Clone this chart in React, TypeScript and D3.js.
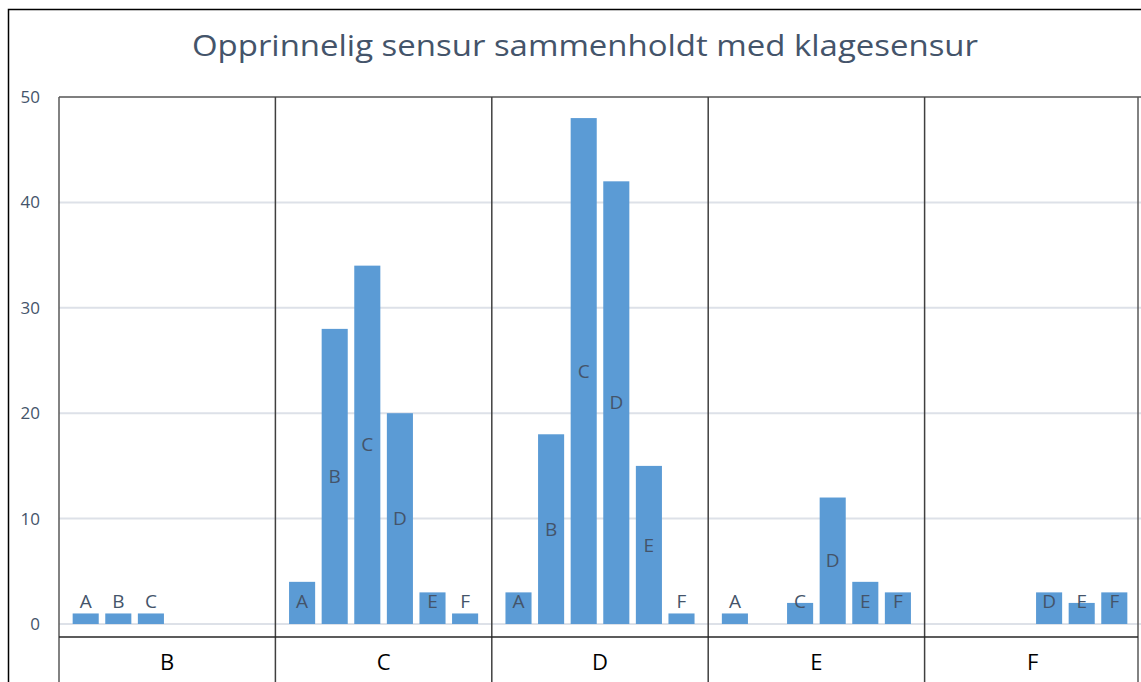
import React from "react";
import * as d3 from "d3";

const title = "Opprinnelig sensur sammenholdt med klagesensur";
const groups = ["B", "C", "D", "E", "F"];
const grades = ["A", "B", "C", "D", "E", "F"];
const countsB = [1, 1, 1, 0, 0, 0];
const countsC = [4, 28, 34, 20, 3, 1];
const countsD = [3, 18, 48, 42, 15, 1];
const countsE = [1, 0, 2, 12, 4, 3];
const countsF = [0, 0, 0, 3, 2, 3];
const yTicks = [0, 10, 20, 30, 40, 50];

const W = 1141;
const H = 682;
const plot = { left: 59, right: 1141, top: 97, bottom: 624 };
const boxRight = 1138;
const tableLine = 637;
const barColor = "#5B9BD5";
const textColor = "#44546A";
const gridColor = "#DDE1E8";
const font = "'Open Sans', 'DejaVu Sans', sans-serif";

export default function App() {
  const table = [countsB, countsC, countsD, countsE, countsF];
  const x0 = d3.scaleBand<string>().domain(groups).range([plot.left, plot.right]).padding(0);
  const gw = x0.bandwidth();
  const x1 = d3
    .scaleBand<string>()
    .domain(grades)
    .range([10.4, gw - 10.4])
    .paddingInner(0.2)
    .paddingOuter(0.1);
  const y = d3.scaleLinear().domain([0, 50]).range([plot.bottom, plot.top]);

  const bars: { g: string; k: string; v: number }[] = [];
  groups.forEach((g, gi) => {
    grades.forEach((k, ki) => {
      const v = table[gi][ki];
      if (v > 0) bars.push({ g, k, v });
    });
  });

  const seps = groups.slice(1).map((g) => x0(g)!);

  return (
    <svg
      width={W}
      height={H}
      style={{ position: "absolute", left: 0, top: 0, background: "#fff" }}
    >
      <rect x={0} y={0} width={W} height={H} fill="#fff" />
      <rect x={8.5} y={9.5} width={W + 20} height={H + 20} fill="none" stroke="#000" strokeWidth={1.5} />
      <text
        x={585}
        y={56}
        textAnchor="middle"
        fontFamily={font}
        fontSize={30}
        fill={textColor}
        textLength={786}
        lengthAdjust="spacingAndGlyphs"
      >
        {title}
      </text>

      {/* gridlines */}
      {yTicks.filter((t) => t > 0 && t < 50).map((t) => (
        <line key={t} x1={plot.left} x2={plot.right} y1={y(t)} y2={y(t)} stroke={gridColor} strokeWidth={2} />
      ))}
      <line x1={plot.left} x2={plot.right} y1={y(0)} y2={y(0)} stroke={gridColor} strokeWidth={2} />

      {/* tick labels */}
      {yTicks.map((t) => (
        <text
          key={t}
          x={40}
          y={y(t)}
          dy="0.35em"
          textAnchor="end"
          fontFamily={font}
          fontSize={17}
          fill={textColor}
        >
          {t}
        </text>
      ))}

      {/* bars */}
      {bars.map((b) => {
        const bx = x0(b.g)! + x1(b.k)!;
        const top = y(b.v);
        const cy = Math.min((top + y(0)) / 2, y(0) - 23);
        return (
          <g key={b.g + b.k}>
            <rect x={bx} y={top} width={x1.bandwidth()} height={y(0) - top} fill={barColor} />
            <text
              x={bx + x1.bandwidth() / 2}
              y={cy}
              dy="0.35em"
              textAnchor="middle"
              fontFamily={font}
              fontSize={19}
              fill={textColor}
            >
              {b.k}
            </text>
          </g>
        );
      })}

      {/* frame */}
      <line x1={plot.left} x2={W} y1={plot.top} y2={plot.top} stroke="#7F7F7F" strokeWidth={2} />
      <line x1={plot.left} x2={plot.left} y1={plot.top} y2={H} stroke="#595959" strokeWidth={1.5} />
      <line x1={boxRight} x2={boxRight} y1={plot.top} y2={H} stroke="#595959" strokeWidth={1.5} />
      {seps.map((s, i) => (
        <line key={i} x1={s} x2={s} y1={plot.top} y2={H} stroke="#404040" strokeWidth={1.5} />
      ))}
      <line x1={plot.left} x2={boxRight} y1={tableLine} y2={tableLine} stroke="#262626" strokeWidth={1.5} />

      {/* category labels */}
      {groups.map((g) => (
        <text
          key={g}
          x={x0(g)! + gw / 2}
          y={662}
          dy="0.35em"
          textAnchor="middle"
          fontFamily={font}
          fontSize={22}
          fill="#000"
        >
          {g}
        </text>
      ))}
    </svg>
  );
}
